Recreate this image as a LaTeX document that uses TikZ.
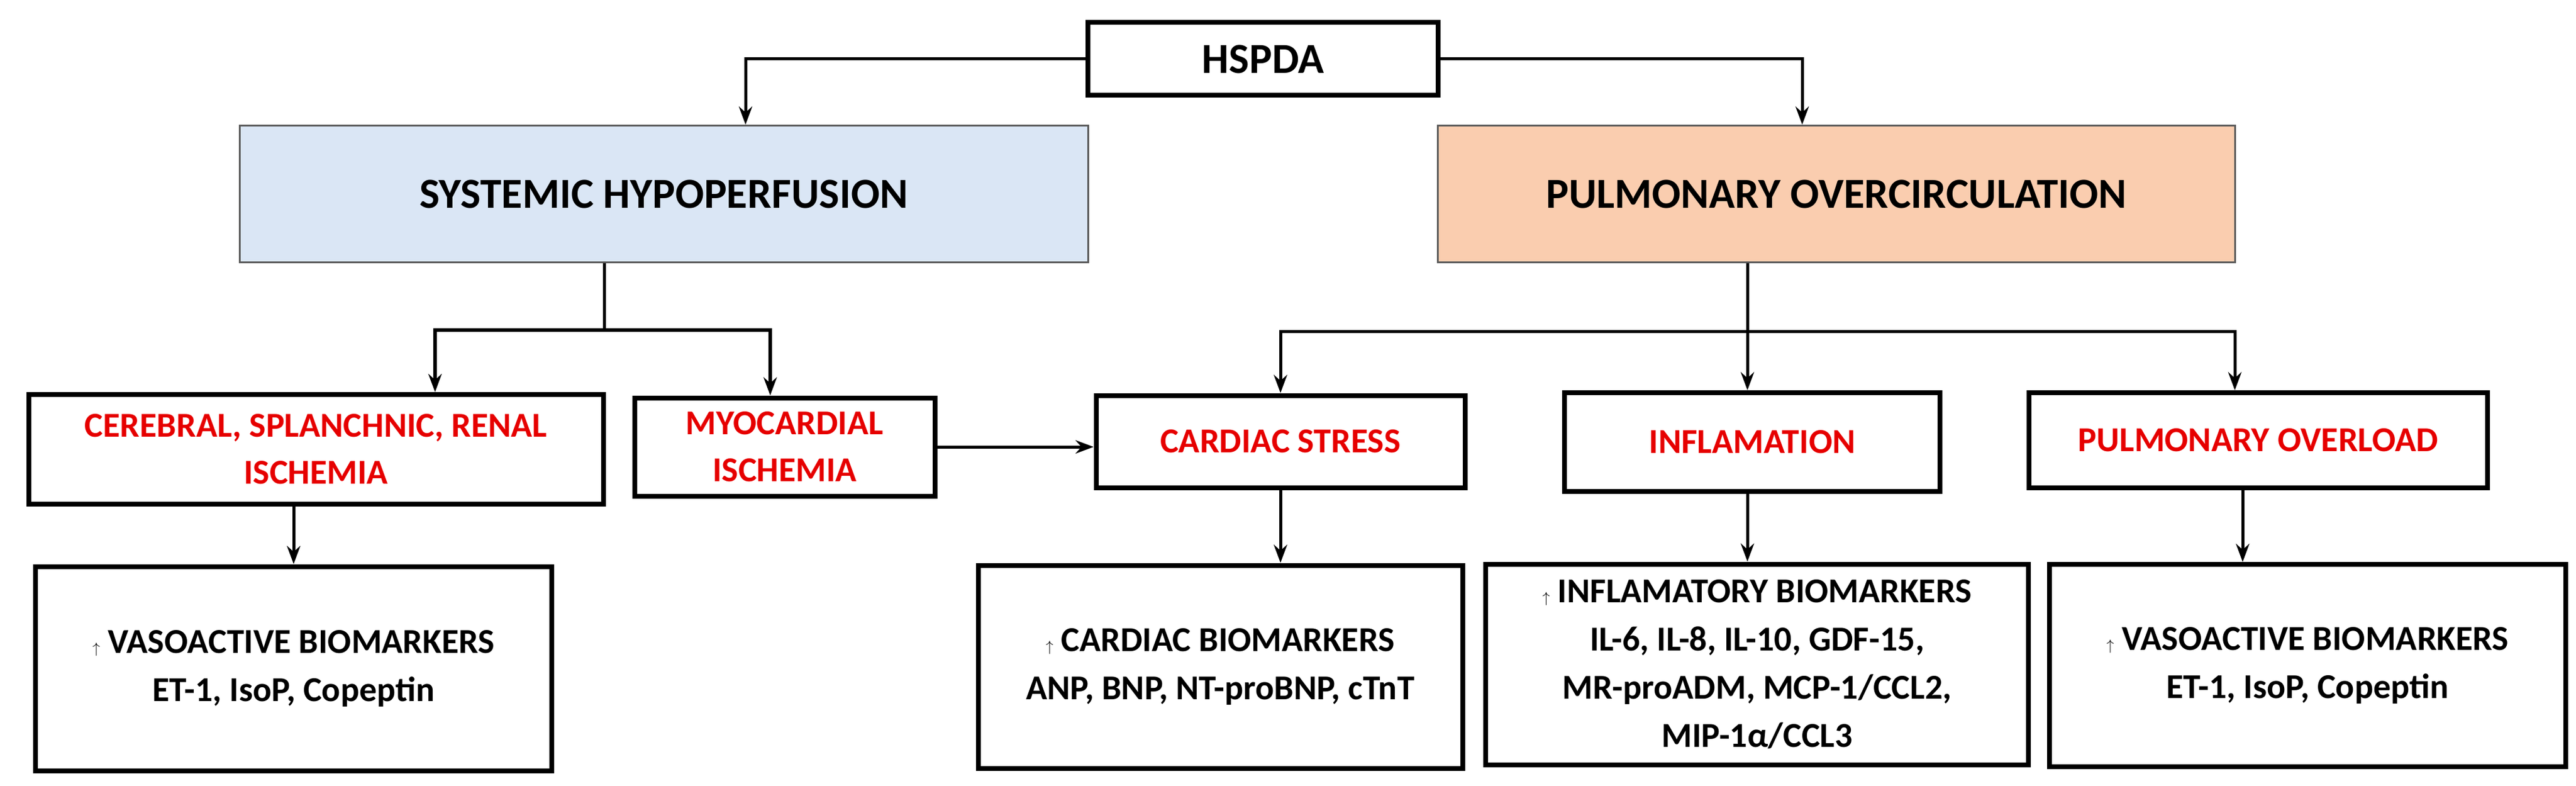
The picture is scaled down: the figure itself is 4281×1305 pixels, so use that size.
\documentclass[tikz,border=0pt]{standalone}
\usepackage{fontspec}
\setmainfont{Carlito}
\usetikzlibrary{arrows.meta}
\definecolor{rd}{RGB}{230,0,0}
\definecolor{bl}{RGB}{218,230,245}
\definecolor{og}{RGB}{250,205,175}
\begin{document}
\begin{tikzpicture}[x=1pt,y=-1pt,
 box/.style={draw=black,line width=8pt,rectangle,inner sep=0pt,align=center},
 big/.style={draw=black!65,line width=3pt,rectangle,inner sep=0pt,align=center,font=\fontsize{71}{85}\selectfont\bfseries},
 red/.style={box,text=rd,font=\fontsize{58}{78}\selectfont\bfseries},
 bio/.style={box,font=\fontsize{58}{80}\selectfont\bfseries},
 arr/.style={line width=5pt,-{Stealth[length=30pt,width=22pt]}}]
\useasboundingbox (0,0) rectangle (4281,1305);
\node[box,minimum width=582pt,minimum height=121pt,font=\fontsize{71}{85}\selectfont\bfseries] (hs) at (2099,98) {HSPDA};
\node[big,fill=bl,minimum width=1410pt,minimum height=227pt] (sh) at (1103,322) {SYSTEMIC HYPOPERFUSION};
\node[big,fill=og,minimum width=1325pt,minimum height=227pt] (po) at (3052,322) {PULMONARY OVERCIRCULATION};
\node[red,minimum width=955pt,minimum height=182pt] (csr) at (525,746) {CEREBRAL, SPLANCHNIC, RENAL\\ISCHEMIA};
\node[red,minimum width=499pt,minimum height=163pt] (mi) at (1304,742) {MYOCARDIAL\\ISCHEMIA};
\node[red,minimum width=613pt,minimum height=153pt] (cs) at (2128,733) {CARDIAC STRESS};
\node[red,minimum width=624pt,minimum height=164pt] (inf) at (2912,734) {INFLAMATION};
\node[red,minimum width=762pt,minimum height=158pt] (pol) at (3753,731) {PULMONARY OVERLOAD};
\node[bio,minimum width=858pt,minimum height=339pt] (vl) at (488,1110) {$\uparrow$ VASOACTIVE BIOMARKERS\\ET-1, IsoP, Copeptin};
\node[bio,minimum width=805pt,minimum height=337pt] (cb) at (2028,1107) {$\uparrow$ CARDIAC BIOMARKERS\\ANP, BNP, NT-proBNP, cTnT};
\node[bio,minimum width=902pt,minimum height=333pt] (ib) at (2920,1103) {$\uparrow$ INFLAMATORY BIOMARKERS\\IL-6, IL-8, IL-10, GDF-15,\\MR-proADM, MCP-1/CCL2,\\MIP-1α/CCL3};
\node[bio,minimum width=858pt,minimum height=336pt] (vr) at (3835,1105) {$\uparrow$ VASOACTIVE BIOMARKERS\\ET-1, IsoP, Copeptin};
\coordinate (sj) at (1004,548);
\coordinate (pj) at (2904,550);
\draw[arr] (hs.west) -| ([xshift=136pt]sh.north);
\draw[arr] (hs.east) -| ([xshift=-57pt]po.north);
\draw[line width=5pt] ([xshift=-99pt]sh.south) -- (sj);
\draw[arr,line width=6pt] (sj) -| ([xshift=198pt]csr.north);
\draw[arr,line width=6pt] (sj) -| ([xshift=-24pt]mi.north);
\draw[arr] (mi.east) -- (cs.west |- mi.east);
\draw[arr] (csr.south -| vl.north) -- (vl.north);
\draw[line width=5pt] ([xshift=-148pt]po.south) -- (pj);
\draw[arr] (pj) -| (cs.north);
\draw[arr] (pj) -- (pj |- inf.north);
\draw[arr] (pj) -| ([xshift=-39pt]pol.north);
\draw[arr] (cs.south) -- (cs.south |- cb.north);
\draw[arr] (inf.south -| pj) -- (pj |- ib.north);
\draw[arr] ([xshift=-26pt]pol.south) -- ([xshift=-26pt]pol.south |- vr.north);
\end{tikzpicture}
\end{document}
